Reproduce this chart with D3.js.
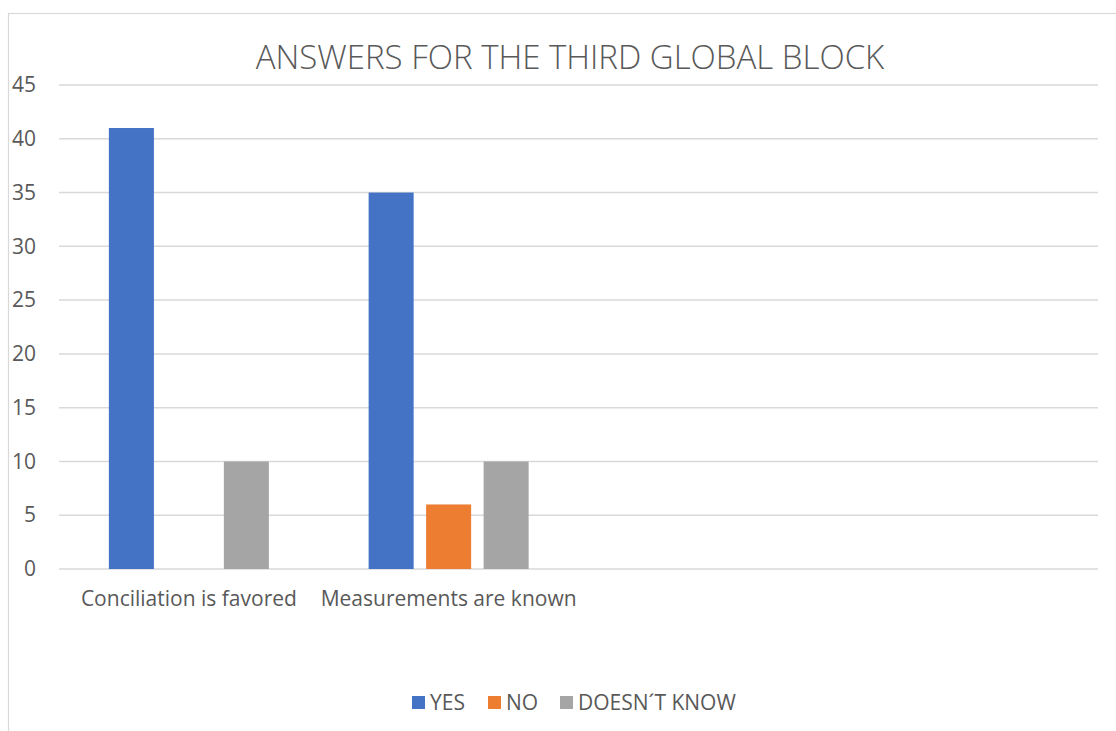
<!DOCTYPE html>
<html>
<head>
<meta charset="utf-8">
<script src="https://cdn.jsdelivr.net/npm/d3@7"></script>
<style>
  body { margin: 0; background: #fff; }
  svg { display: block; font-family: "Open Sans", sans-serif; }
</style>
</head>
<body>
<svg></svg>
<script>
// data
var title = "ANSWERS FOR THE THIRD GLOBAL BLOCK";
var categories = ["Conciliation is favored", "Measurements are known", "", ""];
var seriesNames = ["YES", "NO", "DOESN\u00B4T KNOW"];
var yesValues = [41, 35, 0, 0];
var noValues = [0, 6, 0, 0];
var dkValues = [10, 10, 0, 0];
var yTicks = [0, 5, 10, 15, 20, 25, 30, 35, 40, 45];
var colors = ["#4472C4", "#ED7D31", "#A5A5A5"];

var screen = {width: 1116, height: 731};
var margins = {top: 85, left: 59, right: 18, bottom: 162};
var width = screen.width - margins.left - margins.right;
var height = screen.height - margins.top - margins.bottom;

var svg = d3.select("svg")
            .attr("width", screen.width)
            .attr("height", screen.height);

// chart border
svg.append("rect")
   .attr("x", 8.5).attr("y", 13.5)
   .attr("width", 1200).attr("height", 800)
   .attr("fill", "none")
   .attr("stroke", "#d9d9d9")
   .attr("stroke-width", 1.2);

// title
svg.append("text")
   .attr("x", 570).attr("y", 69)
   .attr("text-anchor", "middle")
   .attr("fill", "#595959")
   .style("font-size", "33px")
   .style("font-weight", 300)
   .text(title);

var plot = svg.append("g")
              .attr("transform", "translate(" + margins.left + "," + margins.top + ")");

// scales
var xScale = d3.scaleBand()
               .domain(d3.range(categories.length))
               .range([0, width])
               .paddingInner(0.384)
               .paddingOuter(0.192);

var inner = d3.scaleBand()
              .domain(seriesNames)
              .range([0, xScale.bandwidth()])
              .paddingInner(0.217);

var yScale = d3.scaleLinear()
               .domain([0, 45])
               .range([height, 0]);

// gridlines
plot.append("g")
    .selectAll("line")
    .data(yTicks)
    .enter()
    .append("line")
    .attr("x1", 0).attr("x2", width)
    .attr("y1", function(d){return yScale(d)})
    .attr("y2", function(d){return yScale(d)})
    .attr("stroke", "#d9d9d9")
    .attr("stroke-width", 1.5);

// y axis
var yAxis = plot.append("g")
                .attr("transform", "translate(-23,0)")
                .call(d3.axisLeft(yScale).tickValues(yTicks).tickSize(0).tickPadding(0));
yAxis.select(".domain").remove();
yAxis.selectAll("text")
     .attr("fill", "#595959")
     .style("font-size", "21px")
     .style("font-family", "Open Sans, sans-serif");

// x axis
var xAxis = plot.append("g")
                .attr("transform", "translate(0," + height + ")")
                .call(d3.axisBottom(xScale).tickFormat(function(i){return categories[i]}).tickSize(0).tickPadding(22));
xAxis.select(".domain").remove();
xAxis.selectAll("text")
     .attr("fill", "#595959")
     .style("font-size", "21px")
     .style("font-family", "Open Sans, sans-serif");

// bars
var series = [yesValues, noValues, dkValues];
var rows = [];
categories.forEach(function(c, i){
  seriesNames.forEach(function(s, j){
    rows.push({cat: i, name: s, value: series[j][i], color: colors[j]});
  });
});

plot.selectAll("rect.bar")
    .data(rows.filter(function(d){return d.value > 0}))
    .enter()
    .append("rect")
    .attr("class", "bar")
    .attr("x", function(d){return xScale(d.cat) + inner(d.name)})
    .attr("y", function(d){return yScale(d.value)})
    .attr("width", inner.bandwidth())
    .attr("height", function(d){return height - yScale(d.value)})
    .attr("fill", function(d){return d.color});

// legend
var legendX = [412, 488, 560];
var legend = svg.append("g");
seriesNames.forEach(function(s, j){
  legend.append("rect")
        .attr("x", legendX[j]).attr("y", 696)
        .attr("width", 13).attr("height", 13)
        .attr("fill", colors[j]);
  legend.append("text")
        .attr("x", legendX[j] + 18).attr("y", 710)
        .attr("fill", "#595959")
        .style("font-size", "21px")
        .text(s);
});
</script>
</body>
</html>
